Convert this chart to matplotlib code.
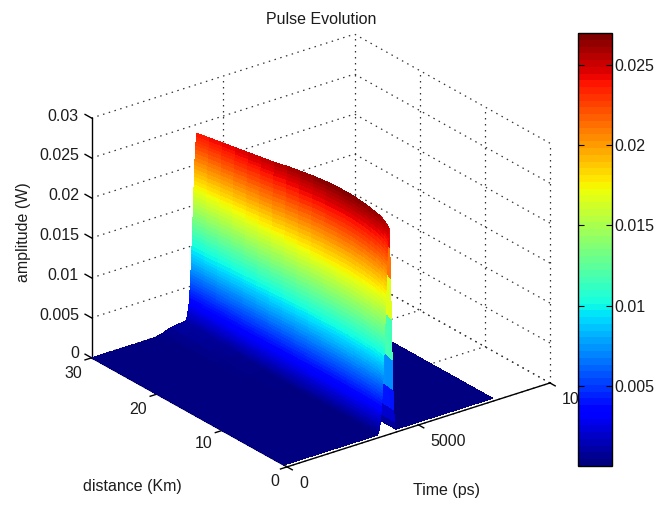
import matplotlib
matplotlib.use('Agg')
import matplotlib.pyplot as plt
import matplotlib.cm as cm
from matplotlib.colors import Normalize
import numpy as np

plt.rcParams['font.family'] = ['Liberation Sans', 'DejaVu Sans']

# values
distance_km = [0.5, 1, 1.5, 2, 3, 4, 5, 6, 7, 8, 10, 12, 14, 16, 18, 20, 22, 24, 26, 28, 30]
peak_amp = [.0255, .0259, .0262, .0264, .0266, .0268, .0269, .0270, .0270, .0270, .0269,
			.0267, .0264, .0261, .0257, .0254, .0251, .0248, .0245, .0242, .0239]
pedestal_amp = [0, 0, 0, 0, 0, 0, 0, 0, 0, 0, 0,
				.00005, .0001, .00015, .0002, .0003, .0004, .0005, .0006, .0007, .0008]

time_ps = [0, 1000, 2000, 2400, 2700, 3000, 3300, 3450, 3520,
		   3570, 3585, 3600, 3615, 3630, 3645, 3660, 3672, 3685, 3695, 3705, 3713,
		   3720, 3728, 3735, 3742, 3748, 3754, 3760, 3765, 3770, 3775, 3780, 3785, 3790, 3795,
		   3800, 3805, 3810, 3815, 3820, 3825, 3830, 3835, 3840, 3845, 3850, 3855, 3860, 3865,
		   3870, 3875, 3880, 3885, 3890, 3895, 3900, 3905, 3910, 3915, 3920, 3925, 3930, 3938,
		   3945, 3953, 3960, 3970, 3980, 3990, 4000,
		   4030, 4060, 4090, 4120, 4150, 4180, 4210, 4240, 4270,
		   4570, 5000, 5500, 6000, 6500, 7000, 7950]
pulse_shape = [0, 0, 0, 0, 0, 0, 0, 0, 0,
			   0, .005, .01, .018, .025, .037, .05, .065, .08, .095, .11, .125,
			   .14, .155, .17, .185, .20, .215, .23, .245, .26, .275, .29, .305, .32, .335,
			   .35, .365, .38, .40, .42, .44, .46, .48, .50, .52, .54, .56, .58, .60,
			   .62, .64, .66, .68, .70, .72, .74, .76, .78, .80, .82, .84, .86, .88,
			   .90, .92, .94, .955, .97, .985, 1.0,
			   .9, .75, .55, .35, .2, .1, .04, .01, 0,
			   0, 0, 0, 0, 0, 0, 0]
pedestal_shape = [0, 0, 0, 0, .3, .75, .95, 1, 1,
				  1, .97, .95, .92, .88, .82, .7, .6, .45, .3, .15, 0,
				  0, 0, 0, 0, 0, 0, 0, 0, 0, 0, 0, 0, 0, 0,
				  0, 0, 0, 0, 0, 0, 0, 0, 0, 0, 0, 0, 0, 0,
				  0, 0, 0, 0, 0, 0, 0, 0, 0, 0, 0, 0, 0, 0,
				  0, 0, 0, 0, 0, 0, 0,
				  0, 0, 0, 0, 0, .2, .5, .7, .8,
				  .2, 0, 0, 0, 0, 0, 0]

time_ticks = [0, 5000, 10000]
distance_ticks = [0, 10, 20, 30]
amp_ticks = [0, .005, .01, .015, .02, .025, .03]
amp_labels = ['0', '0.005', '0.01', '0.015', '0.02', '0.025', '0.03']
cbar_ticks = [.005, .01, .015, .02, .025]
cbar_labels = ['0.005', '0.01', '0.015', '0.02', '0.025']

W, H = 656, 507
TXT = '#1c1c1c'
FS = 11.5

def px(x, y):
	return x / W, 1 - y / H

fig = plt.figure(figsize=(W / 100, H / 100), dpi=100)
S = 517
ax = fig.add_axes([55.3 / W, -9 / H, S / W, S / H], projection='3d', proj_type='ortho')
ax.computed_zorder = False
ax.view_init(elev=24.96, azim=-127.1)
ax.set_box_aspect((329.7, 324.1, 264.5))
ax.set_xlim(0, 10000, view_margin=0)
ax.set_ylim(0, 30, view_margin=0)
ax.set_zlim(0, .03, view_margin=0)
ax.set_axis_off()

bar_cmap = plt.get_cmap('jet', 64)
surf_cmap = plt.get_cmap('jet', 256)
norm = Normalize(0, .027)

# dotted grid on the back walls and floor
dots = dict(color='#333333', lw=0.9, ls=(0, (1.2, 3.6)), zorder=1)
for z in amp_ticks:
	ax.plot([0, 10000], [30, 30], [z, z], **dots)
	ax.plot([10000, 10000], [0, 30], [z, z], **dots)
for t in time_ticks:
	if t > 0:
		ax.plot([t, t], [30, 30], [0, .03], **dots)
	ax.plot([t, t], [0, 30], [0, 0], **dots)
for d in distance_ticks:
	if d < 30:
		ax.plot([10000, 10000], [d, d], [0, .03], **dots)
	ax.plot([0, 10000], [d, d], [0, 0], **dots)

# solid axis lines and ticks
solid = dict(color='black', lw=1.0, zorder=1)
ax.plot([0, 10000], [0, 0], [0, 0], **solid)
ax.plot([0, 0], [0, 30], [0, 0], **solid)
ax.plot([0, 0], [30, 30], [0, .03], **solid)
for z in amp_ticks:
	ax.plot([0, 0], [30, 31], [z, z], **solid)
for d in distance_ticks:
	ax.plot([-250, 0], [d, d], [0, 0], **solid)
for t in time_ticks:
	ax.plot([t, t], [-.8, 0], [0, 0], **solid)

T, D = np.meshgrid(time_ps, distance_km)
Z = np.outer(peak_amp, pulse_shape) + np.outer(pedestal_amp, pedestal_shape)
# far side of the ridge first, the painter's sort mixes the two flanks otherwise
top = int(np.argmax(pulse_shape))
ax.plot_surface(T[:, top:], D[:, top:], Z[:, top:], cmap=surf_cmap, norm=norm, rstride=1, cstride=1,
				linewidth=0, antialiased=False, shade=False, zorder=2)
ax.plot_surface(T[:, :top + 1], D[:, :top + 1], Z[:, :top + 1], cmap=surf_cmap, norm=norm, rstride=1, cstride=1,
				linewidth=0, antialiased=False, shade=False, zorder=3)

# text, placed in figure pixels
fig.text(*px(321, 19), 'Pulse Evolution', ha='center', va='center', fontsize=FS, color=TXT)
fig.text(*px(24, 232), 'amplitude (W)', rotation=90, ha='center', va='center', fontsize=FS, color=TXT)
fig.text(*px(132, 486), 'distance (Km)', ha='center', va='center', fontsize=FS, color=TXT)
fig.text(*px(446, 491), 'Time (ps)', ha='center', va='center', fontsize=FS, color=TXT)

for lab, y in zip(amp_labels, [354, 316, 276, 236, 196, 156, 116]):
	fig.text(*px(79, y), lab, ha='right', va='center', fontsize=FS, color=TXT)
for lab, x, y in zip(distance_ticks, [275, 204, 138, 73], [481, 444, 409, 373]):
	fig.text(*px(x, y), str(lab), ha='center', va='center', fontsize=FS, color=TXT)
for lab, x, y in zip(time_ticks, [304, 448, 562], [483, 441, 400]):
	fig.text(*px(x, y), str(lab), ha='left' if lab == 10000 else 'center', va='center', fontsize=FS, color=TXT)

# colorbar sits on top of the clipped 10000 label
cax = fig.add_axes([578 / W, 1 - 466 / H, 34 / W, 433 / H], zorder=5)
cb = fig.colorbar(cm.ScalarMappable(norm=norm, cmap=bar_cmap), cax=cax)
cb.set_ticks(cbar_ticks, labels=cbar_labels)
cb.ax.tick_params(direction='in', length=4, width=0.8, left=True, right=True, labelsize=FS,
				  labelcolor=TXT, pad=2)
cb.outline.set_linewidth(1.0)

fig.savefig('out.png', dpi=100)
